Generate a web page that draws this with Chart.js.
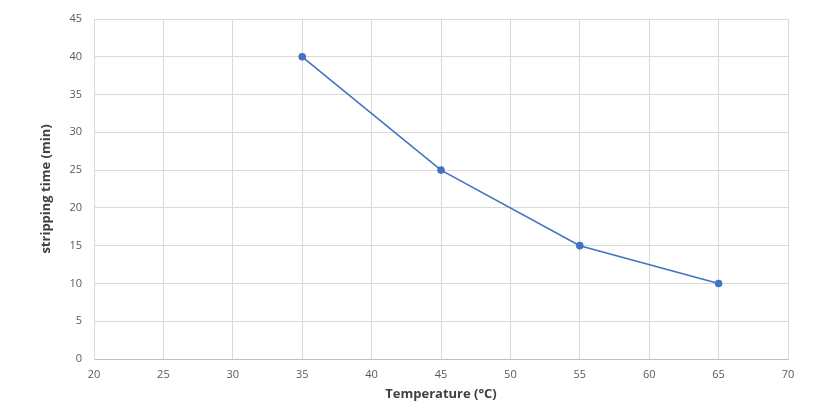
<!DOCTYPE html>
<html><head><meta charset="utf-8">
<script src="https://cdn.jsdelivr.net/npm/chart.js@4"></script>
<style>html,body{margin:0;padding:0;background:#fff}#w{width:840px;height:415px}</style>
</head><body><div id="w"><canvas id="c"></canvas></div>
<script>
const temperatures = [35, 45, 55, 65];
const strippingTimes = [40, 25, 15, 10];
const xMin = 20, xMax = 70, xStep = 5;
const yMin = 0, yMax = 45, yStep = 5;
const xTitle = 'Temperature (°C)';
const yTitle = 'stripping time (min)';

const points = temperatures.map((t, i) => ({x: t, y: strippingTimes[i]}));
new Chart(document.getElementById('c'), {
  type: 'scatter',
  data: {datasets: [{
    data: points, showLine: true, borderColor: '#4472C4', backgroundColor: '#4472C4',
    borderWidth: 1.6, pointRadius: 3, pointHoverRadius: 3, tension: 0
  }]},
  options: {
    responsive: true, maintainAspectRatio: false, animation: false,
    devicePixelRatio: 1,
    layout: {padding: {left: 38, right: 52, top: 19, bottom: 0}},
    plugins: {legend: {display: false}, tooltip: {enabled: false}},
    scales: {
      x: {type: 'linear', min: xMin, max: xMax,
        ticks: {stepSize: xStep, color: '#595959', font: {family: 'Open Sans', size: 11}, padding: 9},
        grid: {color: '#d9d9d9', drawTicks: false},
        border: {color: '#bfbfbf'},
        title: {display: true, text: xTitle, color: '#404040', font: {family: 'Open Sans', size: 13, weight: 'bold'}, padding: {top: 0, bottom: 13}},
        afterFit: s => { s.height = 56; }
      },
      y: {min: yMin, max: yMax,
        ticks: {stepSize: yStep, color: '#595959', font: {family: 'Open Sans', size: 11}, padding: 12},
        grid: {color: '#d9d9d9', drawTicks: false},
        border: {color: '#d9d9d9'},
        title: {display: true, text: yTitle, color: '#404040', font: {family: 'Open Sans', size: 13, weight: 'bold'}, padding: {top: 0, bottom: 0}},
        afterFit: s => { s.width = 56; }
      }
    }
  }
});
</script></body></html>
